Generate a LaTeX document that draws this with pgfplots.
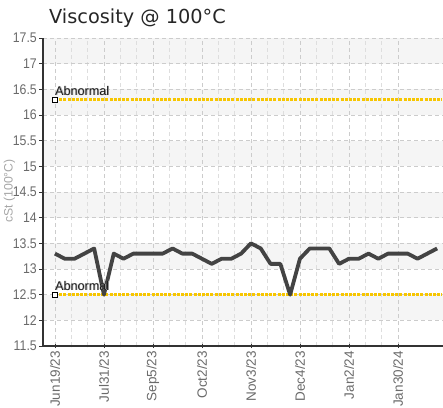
\documentclass[border=0pt]{standalone}
\usepackage{pgfplots}
\pgfplotsset{compat=1.18}
\usepackage{fontspec}
\setmainfont{Liberation Sans}
\newfontfamily\titlefont{DejaVu Sans}
\newfontfamily\tickfont[FakeStretch=0.88]{Liberation Sans}
\definecolor{abn}{HTML}{F7C600}
\definecolor{dataline}{HTML}{434343}
\definecolor{band}{HTML}{F5F5F5}
\definecolor{tickgray}{HTML}{6A6A6A}
\begin{document}
\begin{tikzpicture}[x=1pt,y=1pt]
\node[anchor=base west, text=black!85, inner sep=0pt] at (49,383) {\titlefont\fontsize{19.3}{22}\selectfont Viscosity @ 100°C};
\node[rotate=90, text=black!35, inner sep=0pt] at (9.5,216) {\fontsize{12.2}{14}\selectfont cSt (100°C)};
\begin{axis}[
  set layers,
  at={(43pt,61pt)}, anchor=south west,
  scale only axis, width=400pt, height=308pt,
  xmin=-1.22, xmax=39.6, ymin=11.5, ymax=17.5,
  axis x line=bottom, axis y line=left,
  axis line style={-, draw=black!80, line width=1.1pt},
  xtick={0,5,10,15,20,25,30,35},
  xticklabels={Jun19/23,Jul31/23,Sep5/23,Oct2/23,Nov3/23,Dec4/23,Jan2/24,Jan30/24},
  xticklabel style={yshift=-3pt, rotate=90, anchor=east, inner sep=0pt, text=tickgray, font=\fontsize{13.5}{14}\selectfont},
  ytick={11.5,12,12.5,13,13.5,14,14.5,15,15.5,16,16.5,17,17.5},
  yticklabels={11.5,12,12.5,13,13.5,14,14.5,15,15.5,16,16.5,17,17.5},
  yticklabel style={anchor=east, inner sep=0pt, text=tickgray, font=\tickfont\fontsize{14}{15}\selectfont, xshift=-2pt},
  minor x tick num=2,
  x tick style={draw=black!80, line width=0.8pt},
  y tick style={draw=black!80, line width=0.8pt},
  xtick align=center, ytick align=outside,
  major tick length=4pt, minor tick length=2.5pt,
  grid=both,
  major grid style={draw=black!20, line width=0.6pt, dash pattern=on 4pt off 3pt},
  minor grid style={draw=black!13, line width=0.6pt, dash pattern=on 4pt off 3pt},
]
\addplot[on layer=axis background, fill=band, draw=none] coordinates {(-1.22,12) (39.6,12) (39.6,12.5) (-1.22,12.5)} -- cycle;
\addplot[on layer=axis background, fill=band, draw=none] coordinates {(-1.22,13) (39.6,13) (39.6,13.5) (-1.22,13.5)} -- cycle;
\addplot[on layer=axis background, fill=band, draw=none] coordinates {(-1.22,14) (39.6,14) (39.6,14.5) (-1.22,14.5)} -- cycle;
\addplot[on layer=axis background, fill=band, draw=none] coordinates {(-1.22,15) (39.6,15) (39.6,15.5) (-1.22,15.5)} -- cycle;
\addplot[on layer=axis background, fill=band, draw=none] coordinates {(-1.22,16) (39.6,16) (39.6,16.5) (-1.22,16.5)} -- cycle;
\addplot[on layer=axis background, fill=band, draw=none] coordinates {(-1.22,17) (39.6,17) (39.6,17.5) (-1.22,17.5)} -- cycle;
\addplot[abn, line width=3.3pt, dash pattern=on 3pt off 1.2pt] coordinates {(0,16.3) (39.5,16.3)};
\addplot[abn, line width=3.3pt, dash pattern=on 3pt off 1.2pt] coordinates {(0,12.5) (39.5,12.5)};
\addplot[dataline, line width=3.8pt, line join=round] coordinates {
(0,13.3) (1,13.2) (2,13.2) (3,13.3) (4,13.4) (5,12.5) (6,13.3) (7,13.2) (8,13.3) (9,13.3)
(10,13.3) (11,13.3) (12,13.4) (13,13.3) (14,13.3) (15,13.2) (16,13.1) (17,13.2) (18,13.2) (19,13.3)
(20,13.5) (21,13.4) (22,13.1) (23,13.1) (24,12.5) (25,13.2) (26,13.4) (27,13.4) (28,13.4) (29,13.1)
(30,13.2) (31,13.2) (32,13.3) (33,13.2) (34,13.3) (35,13.3) (36,13.3) (37,13.2) (38,13.3) (39,13.4)};
\addplot[only marks, mark=square*, mark size=2.6pt, mark options={fill=white, draw=black, line width=0.8pt}] coordinates {(0,16.3) (0,12.5)};
\node[anchor=base west, text=black!30, inner sep=0pt] at ([xshift=0.9pt,yshift=-0.9pt]axis cs:0,16.3) {\fontsize{12.6}{14}\selectfont\raisebox{4.6pt}{Abnormal}};
\node[anchor=base west, text=black!90, inner sep=0pt] at (axis cs:0,16.3) {\fontsize{12.6}{14}\selectfont\raisebox{4.6pt}{Abnormal}};
\node[anchor=base west, text=black!30, inner sep=0pt] at ([xshift=0.9pt,yshift=-0.9pt]axis cs:0,12.5) {\fontsize{12.6}{14}\selectfont\raisebox{4.6pt}{Abnormal}};
\node[anchor=base west, text=black!90, inner sep=0pt] at (axis cs:0,12.5) {\fontsize{12.6}{14}\selectfont\raisebox{4.6pt}{Abnormal}};
\end{axis}
\pgfresetboundingbox
\useasboundingbox (0,0) rectangle (443,407);
\end{tikzpicture}
\end{document}
